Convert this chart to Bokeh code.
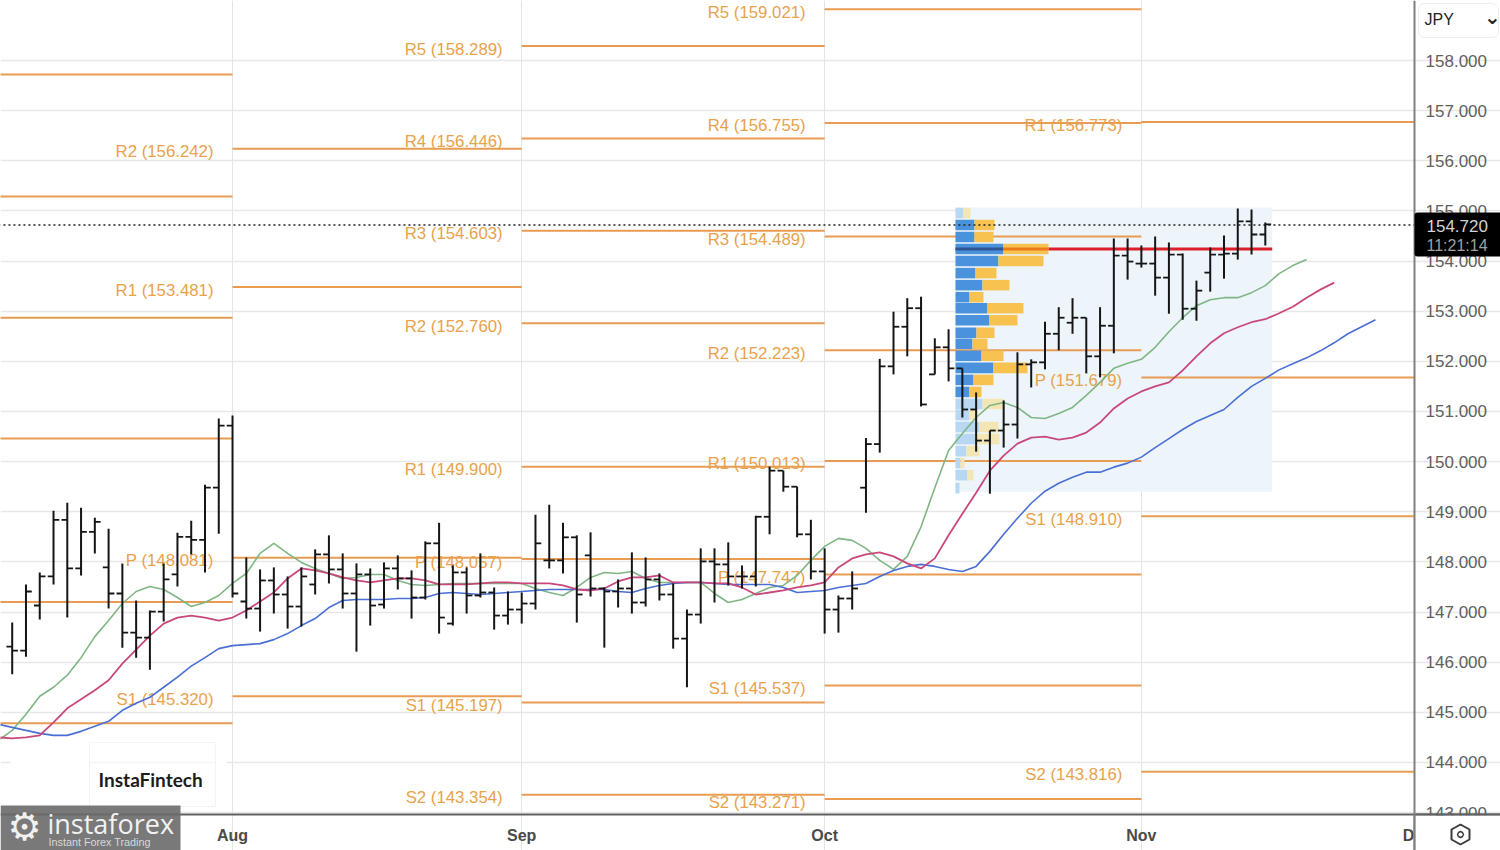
from bokeh.plotting import figure
from bokeh.embed import file_html
from bokeh.resources import INLINE
from bokeh.core.properties import value
from bokeh.models import (BoxAnnotation, Label, PolyAnnotation, FixedTicker, Range1d, NumeralTickFormatter)

# ---------- data ----------
first_bar = -16
opens = [146.31,146.23,147.13,147.71,148.84,147.87,148.60,147.89,147.37,146.59,146.49,147.01,147.75,148.50,148.44,149.48,
 150.72,147.21,147.07,147.63,147.35,147.11,147.55,148.15,147.85,147.37,147.75,147.15,147.87,147.67,147.29,148.37,146.77,147.79,147.33,147.39,146.93,
 147.05,147.17,148.03,148.03,148.49,148.13,147.47,147.41,147.47,147.19,147.65,147.35,146.47,146.95,148.01,147.95,147.71,147.71,148.90,149.82,149.50,
 148.55,147.81,147.05,147.27,149.48,150.35,151.90,152.69,153.06,151.74,152.28,151.86,151.04,150.42,150.62,150.74,151.94,151.98,152.55,152.77,152.87,152.10,152.71,154.11,
 153.95,153.95,153.67,154.13,153.05,153.77,154.13,154.15,154.79,154.53]
highs = [146.79,147.55,147.79,149.02,149.18,149.08,148.88,148.66,147.97,147.23,147.03,147.97,148.58,148.82,149.54,150.86,
 150.92,148.09,147.85,147.89,147.71,147.89,148.25,148.53,148.17,147.97,147.87,147.99,148.13,147.83,148.41,148.78,147.93,147.89,148.17,147.49,147.41,
 147.39,148.94,149.14,148.78,148.53,148.59,147.49,147.65,148.19,148.09,147.77,147.57,147.05,148.27,148.27,148.39,147.93,148.92,149.90,149.82,149.50,
 148.84,148.27,147.33,147.81,150.47,152.05,152.99,153.26,153.29,152.46,152.64,151.86,151.38,150.62,151.22,152.18,152.04,152.79,153.08,153.26,152.87,153.08,154.45,154.45,
 154.31,154.49,154.37,154.15,153.61,154.27,154.51,155.05,155.03,154.77]
lows = [145.76,146.11,146.85,147.55,146.89,147.73,148.17,147.07,146.29,146.09,145.85,146.81,147.51,148.15,147.79,148.56,
 147.29,146.87,146.61,146.97,146.67,146.71,147.35,147.57,147.07,146.21,146.73,147.07,147.45,146.87,147.25,146.57,146.73,146.97,147.29,146.65,146.75,
 146.77,147.05,147.87,147.77,146.79,147.31,146.29,147.09,146.97,147.11,147.23,146.27,145.50,146.77,147.19,147.53,147.47,147.51,148.55,149.40,148.49,
 147.65,146.57,146.59,147.05,148.98,150.18,151.74,152.10,151.10,151.74,151.60,150.88,150.20,149.36,150.28,150.46,151.48,151.84,152.22,152.55,151.76,151.68,152.16,153.63,
 153.87,153.31,152.95,152.83,152.81,153.39,153.65,154.03,154.13,154.31]
closes = [146.23,147.41,147.71,148.84,147.87,148.60,148.80,147.37,146.59,146.49,147.01,147.65,148.50,148.44,149.48,150.72,
 147.37,147.07,147.63,147.35,147.11,147.71,148.15,147.85,147.37,147.75,147.13,147.87,147.67,147.29,148.37,146.89,147.79,147.33,147.39,146.93,147.05,
 147.17,148.37,148.03,148.49,147.35,147.47,147.41,147.47,147.19,147.65,147.35,146.47,146.95,148.01,147.95,147.71,147.71,148.90,149.82,149.50,148.55,
 147.81,147.05,147.27,147.47,150.35,151.90,152.69,153.06,151.14,152.28,151.86,151.04,150.42,150.62,150.74,151.94,151.98,152.55,152.87,152.87,152.10,152.71,154.11,153.99,
 153.95,153.67,154.13,153.05,153.41,154.13,154.15,154.79,154.53,154.73]

ma_first = -17
ma_fast = [144.44,144.64,144.96,145.32,145.50,145.74,146.09,146.51,146.83,147.17,147.41,147.51,147.45,147.29,147.11,147.19,147.33,
 147.57,147.77,148.17,148.37,148.17,147.99,147.87,147.77,147.67,147.69,147.75,147.75,147.63,147.55,147.53,147.55,147.57,147.57,147.57,147.57,147.57,147.57,
 147.47,147.39,147.33,147.49,147.69,147.79,147.77,147.81,147.67,147.59,147.59,147.59,147.59,147.37,147.19,147.25,147.37,147.49,147.53,147.73,148.03,
 148.31,148.47,148.43,148.27,148.03,147.85,148.11,148.70,149.48,150.22,150.56,150.88,151.12,151.18,151.08,150.88,150.86,150.96,151.08,151.32,151.58,151.86,151.96,
 152.04,152.28,152.59,152.87,153.11,153.23,153.27,153.27,153.37,153.51,153.75,153.91,154.03]
ma_mid = [144.50,144.48,144.50,144.54,144.80,145.08,145.26,145.44,145.64,145.97,146.25,146.53,146.77,146.89,146.93,146.89,146.83,
 146.89,147.03,147.21,147.39,147.67,147.87,147.83,147.77,147.69,147.63,147.59,147.63,147.67,147.67,147.63,147.55,147.55,147.55,147.57,147.59,147.59,147.57,
 147.57,147.57,147.53,147.45,147.43,147.47,147.61,147.69,147.69,147.73,147.59,147.59,147.59,147.57,147.57,147.49,147.35,147.39,147.43,147.49,147.53,
 147.59,147.89,148.07,148.15,148.19,148.11,147.97,147.87,148.07,148.53,148.96,149.38,149.82,150.12,150.36,150.48,150.50,150.44,150.48,150.58,150.78,151.06,151.26,
 151.40,151.50,151.58,151.82,152.10,152.36,152.56,152.68,152.78,152.84,152.96,153.09,153.27,153.43,153.57]
ma_slow = [144.76,144.70,144.64,144.58,144.54,144.54,144.62,144.72,144.82,145.04,145.18,145.30,145.50,145.70,145.92,146.09,146.27,
 146.33,146.35,146.37,146.45,146.57,146.73,146.87,147.09,147.23,147.25,147.25,147.25,147.27,147.27,147.29,147.37,147.39,147.37,147.35,147.37,147.39,147.41,
 147.43,147.45,147.45,147.45,147.45,147.45,147.41,147.39,147.47,147.53,147.57,147.59,147.59,147.57,147.55,147.55,147.55,147.55,147.49,147.39,147.41,
 147.43,147.49,147.53,147.57,147.71,147.83,147.91,147.95,147.91,147.85,147.81,147.91,148.21,148.55,148.87,149.17,149.41,149.57,149.69,149.79,149.79,149.89,149.97,
 150.09,150.28,150.46,150.64,150.80,150.92,151.04,151.28,151.50,151.66,151.83,151.95,152.07,152.21,152.37,152.55,152.69,152.83]

month_ticks = [0, 21, 43, 66]
month_names = ["Aug", "Sep", "Oct", "Nov"]
prev_levels = [157.72, 155.29, 152.87, 150.46, 147.20, 144.78]
level_names = ["R2","R1","P","S1", "R5","R4","R3","R2","R1","P","S1","S2", "R5","R4","R3","R2","R1","P","S1","S2", "R1","P","S1","S2"]
level_values = [156.242,153.481,148.081,145.320, 158.289,156.446,154.603,152.760,149.900,148.057,145.197,143.354,
                159.021,156.755,154.489,152.223,150.013,147.747,145.537,143.271, 156.773,151.679,148.910,143.816]
last_period_end = 85.84
level_start = [0]*4 + [21]*8 + [43]*8 + [66]*4
level_end = [21]*4 + [43]*8 + [66]*8 + [last_period_end]*4
prev_start = -17
prev_end = 0

last_price = 154.72
countdown = "11:21:14"
y_ticks = list(range(143, 159))

vp_left = 52.5
vp_right = 75.5
vp_top = 155.07
vp_bottom = 149.40
vp_price = [154.96,154.72,154.48,154.24,154.00,153.76,153.52,153.28,153.06,152.82,152.57,152.35,152.11,151.87,151.63,151.39,151.15,150.93,150.69,150.45,150.21,149.97,149.73,149.47]
vp_buy  = [8,19,19,48,43,20,27,14,32,34,21,17,26,38,18,14,27,14,24,20,11,5,12,4]
vp_sell = [7,20,19,45,45,21,27,14,36,28,18,15,22,34,20,12,21,8,19,24,13,4,6,0]
vp_in_area = [0,1,1,1,1,1,1,1,1,1,1,1,1,1,1,1,0,0,0,0,0,0,0,0]
poc_row = 3
# ---------- layout ----------
AXIS_X = 85.84      # bar position of the price axis
AXIS_Y = 142.962    # price level of the time axis

p = figure(width=1500, height=850, output_backend="svg", toolbar_location=None,
           x_range=Range1d(-16.85, 92.08), y_range=Range1d(142.244, 159.197),
           min_border_left=0, min_border_top=0, min_border_right=0, min_border_bottom=0,
           x_axis_location="below", y_axis_location="right", outline_line_color=None, background_fill_color="white",
           border_fill_color="white")

FONT = "Liberation Sans"
yax = p.yaxis[0]
yax.fixed_location = AXIS_X
yax.ticker = FixedTicker(ticks=y_ticks)
yax.formatter = NumeralTickFormatter(format="0.000")
yax.axis_line_color = "#808080"; yax.axis_line_width = 2
yax.major_tick_line_color = None; yax.minor_tick_line_color = None
yax.major_tick_in = 0; yax.major_tick_out = 0; yax.minor_tick_in = 0; yax.minor_tick_out = 0
yax.major_label_text_font = FONT; yax.major_label_text_font_size = "17px"
yax.major_label_text_color = "#606060"; yax.major_label_standoff = 11

xax = p.xaxis[0]
xax.fixed_location = AXIS_Y
xax.ticker = FixedTicker(ticks=month_ticks + [85.4])
xax.major_label_overrides = {**{m: n for m, n in zip(month_ticks, month_names)}, 85.4: "D"}
xax.axis_line_color = "#606060"; xax.axis_line_width = 2
xax.major_tick_line_color = None; xax.minor_tick_line_color = None
xax.major_tick_in = 0; xax.major_tick_out = 0; xax.minor_tick_in = 0; xax.minor_tick_out = 0
xax.major_label_text_font = FONT; xax.major_label_text_font_size = "16px"
xax.major_label_text_font_style = "bold"; xax.major_label_text_color = "#4a4a4a"
xax.major_label_standoff = 12

p.xgrid.ticker = FixedTicker(ticks=month_ticks)
p.ygrid.ticker = FixedTicker(ticks=y_ticks)
p.xgrid.bounds = (AXIS_Y, 159.197)
p.ygrid.bounds = (-16.85, AXIS_X)
p.xgrid.grid_line_color = "#e4e4e4"; p.xgrid.grid_line_width = 1
p.ygrid.grid_line_color = "#e8e8e8"; p.ygrid.grid_line_width = 1.5

def box(x0, y0, x1, y1, **kw):
    kw.setdefault("line_color", None)
    kw.setdefault("line_alpha", 1)
    p.add_layout(BoxAnnotation(left=x0, right=x1, top=y0, bottom=y1, left_units="canvas", right_units="canvas",
                               top_units="canvas", bottom_units="canvas", **kw))
def label(x, y, text, **kw):
    kw.setdefault("text_font", FONT)
    p.add_layout(Label(x=x, y=y, x_units="canvas", y_units="canvas", text=text, **kw))

# hole in the grid around the brand plate
box(10, 745, 89, 806, fill_color="white", fill_alpha=1, level="underlay")
box(215, 745, 226, 806, fill_color="white", fill_alpha=1, level="underlay")
box(89, 742, 215, 806, fill_color="white", fill_alpha=0.6, line_color="#f3f3f3", line_width=1, level="underlay")

# volume-profile backdrop
p.quad(left=[vp_left], right=[vp_right], top=[vp_top], bottom=[vp_bottom], fill_color="#edf5fb", line_color=None)

# pivot levels
ORANGE = "#e89b52"
p.segment(x0=[prev_start]*len(prev_levels), x1=[prev_end]*len(prev_levels), y0=prev_levels, y1=prev_levels,
          line_color=ORANGE, line_width=2)
p.segment(x0=level_start, x1=level_end, y0=level_values, y1=level_values, line_color=ORANGE, line_width=2)
level_text = [f"{n} ({v:.3f})" for n, v in zip(level_names, level_values)]
p.text(x=level_start, y=level_values, text=level_text, text_align="right", text_baseline="middle", x_offset=-19, y_offset=3,
       text_font=value(FONT), text_font_size="16.8px", text_color="#e8a24c")

# volume profile
PX = 13.77
rows = range(len(vp_price))
for flag, blue, yellow in ((1, "#4a92dc", "#f7c250"), (0, "#b7d7f2", "#f3e5b4")):
    idx = [i for i in rows if vp_in_area[i] == flag]
    ys = [vp_price[i] for i in idx]
    l1 = [vp_left + vp_buy[i] / PX for i in idx]
    l2 = [vp_left + (vp_buy[i] + vp_sell[i]) / PX for i in idx]
    p.hbar(y=ys, height=0.21, left=vp_left, right=l1, fill_color=blue, line_color=None)
    p.hbar(y=ys, height=0.21, left=l1, right=l2, fill_color=yellow, line_color=None)

# point of control
poc_y = vp_price[poc_row]
poc_a = vp_left + vp_buy[poc_row] / PX
poc_b = poc_a + vp_sell[poc_row] / PX
p.segment(x0=[poc_b], x1=[vp_right], y0=[poc_y], y1=[poc_y], line_color="#dd1f2a", line_width=3)
p.segment(x0=[vp_left], x1=[poc_a], y0=[poc_y], y1=[poc_y], line_color="#2f5596", line_width=3)
p.segment(x0=[poc_a], x1=[poc_b], y0=[poc_y], y1=[poc_y], line_color="#ec7a18", line_width=3)

# last price dotted line
p.line(x=[-17, AXIS_X], y=[last_price, last_price], line_color="#222222", line_width=1.5, line_dash=[2, 3])

# moving averages
p.line(x=list(range(ma_first, ma_first + len(ma_fast))), y=ma_fast, line_color="#7fb684", line_width=1.6)
p.line(x=list(range(ma_first, ma_first + len(ma_slow))), y=ma_slow, line_color="#4a6fd4", line_width=1.6)
p.line(x=list(range(ma_first, ma_first + len(ma_mid))), y=ma_mid, line_color="#c9487c", line_width=1.8)

# OHLC bars
bars = list(range(first_bar, first_bar + len(opens)))
INK = "#151515"
p.segment(x0=bars, x1=bars, y0=lows, y1=highs, line_color=INK, line_width=2)
p.segment(x0=[b - 0.42 for b in bars], x1=bars, y0=opens, y1=opens, line_color=INK, line_width=1.8)
p.segment(x0=bars, x1=[b + 0.42 for b in bars], y0=closes, y1=closes, line_color=INK, line_width=1.8)

# ---------- chrome around the plot ----------
box(1415, 815, 1500, 850, fill_color="white", fill_alpha=1)              # hides the lower half of 143.000
box(1413, 814, 1415, 850, fill_color="#808080", fill_alpha=1)            # price axis line, back on top of the mask
box(1415, 813, 1500, 815, fill_color="#606060", fill_alpha=1)            # time axis line, back on top of the mask

box(1418, 3, 1498, 37, fill_color="white", fill_alpha=1, line_color="#eeeeee", line_width=1, border_radius=6)
label(1424, 19, "JPY", text_font_size="16px", text_color="#222222", text_baseline="middle")
label(1492, 16, "\u2304", text_font_size="20px", text_color="#222222", text_align="center", text_baseline="middle", text_font="DejaVu Sans", text_font_style="bold")

box(1414, 212, 1505, 256, fill_color="#000000", fill_alpha=1, border_radius=3)
label(1426, 225, f"{last_price:.3f}", text_font_size="17px", text_color="#d4d4d4", text_baseline="middle")
label(1426, 245, countdown, text_font_size="16px", text_color="#a0a0a0", text_baseline="middle")

# settings icon
hex_x = [1460, 1469, 1469, 1460, 1451, 1451]
hex_y = [824, 829, 839, 844, 839, 829]
p.add_layout(PolyAnnotation(xs=hex_x, ys=hex_y, xs_units="canvas", ys_units="canvas",
                            fill_color=None, line_color="#3c3c3c", line_alpha=1, line_width=2))
c_x = [1463, 1462, 1460, 1458, 1457, 1458, 1460, 1462]
c_y = [834, 832, 831, 832, 834, 836, 837, 836]
p.add_layout(PolyAnnotation(xs=c_x, ys=c_y, xs_units="canvas", ys_units="canvas",
                            fill_color=None, line_color="#3c3c3c", line_alpha=1, line_width=1.5))

# brand plates
label(98, 779, "InstaFintech", text_font="Lato", text_font_size="19px", text_color="#1c1c1c", text_baseline="middle", text_font_style="bold")
box(0, 805, 180, 850, fill_color="#6a6a6a", fill_alpha=0.9)
label(24, 826, "\u2699", text_font="DejaVu Sans", text_font_size="38px", text_color="#f0f0f0", text_align="center", text_baseline="middle")
label(47, 823, "instaforex", text_font="Open Sans", text_font_size="27px", text_color="#f2f2f2", text_baseline="middle")
label(48, 841, "Instant Forex Trading", text_font_size="10.8px", text_color="#d8d8d8", text_baseline="middle")

open("out.html", "w").write(file_html(p, INLINE))
